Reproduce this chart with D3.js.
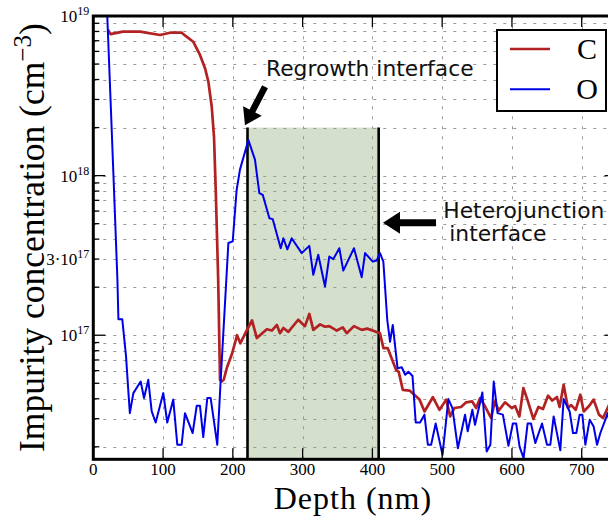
<!DOCTYPE html>
<html><head><meta charset="utf-8">
<script src="https://cdn.jsdelivr.net/npm/d3@7"></script>
<style>body{margin:0;background:#fff;overflow:hidden}</style>
</head><body><svg id="c" width="608" height="516"></svg>
<script>
// ---- data (depth in nm, concentration in cm^-3) ----
const depthC = [21,24.7,42.5,67,95.6,110,126.6,133.7,143.2,152.9,160.1,164.9,169.7,173,175.5,179,181.6,184,186.9,191.7,198.8,206,210.7,220.3,227.5,234.4,248.7,255.9,263.1,267.6,272.4,279.5,293.7,303.4,309.6,315.3,325,332.1,338.2,348.9,357.5,363.3,373.6,384.7,392.6,405.2,410.9,415.8,422,433.9,437.7,443.5,453.3,467.6,474.7,486.6,496.2,505.8,511.5,517.5,527.1,534.4,543,548.7,554.4,562,570.2,575.4,581,590.1,599.7,604.5,610.7,616.4,622.1,630.7,637.9,644.5,651.7,657.8,664.5,668.3,674.1,680.3,685,691.4,698,702.9,710.5,717.1,724.7,730.5,741,748,755];
const concC = [8.2e18,7.7e18,7.98e18,7.98e18,7.6e18,7.86e18,7.86e18,7.42e18,6.9e18,5.7e18,4.71e18,3.88e18,2.71e18,1.75e18,8.1e17,2.22e17,5.26e16,5.13e16,5.26e16,6.3e16,7.65e16,1.0e17,8.9e16,1.08e17,1.24e17,9.6e16,1.09e17,1.07e17,1.16e17,1.03e17,1.11e17,1.05e17,1.25e17,1.14e17,1.36e17,1.08e17,1.17e17,1.13e17,1.14e17,1.07e17,1.12e17,1.03e17,1.14e17,1.08e17,1.1e17,1.05e17,1.03e17,8.3e16,8.3e16,6.07e16,5.9e16,4.55e16,4.5e16,3.95e16,3.33e16,4.09e16,3.41e16,3.95e16,3.1e16,3.5e16,3.55e16,3.8e16,3.85e16,3.5e16,4.04e16,3.55e16,3.03e16,3.85e16,3.37e16,3.8e16,3.5e16,3.6e16,3.1e16,4.67e16,3.95e16,2.99e16,3.55e16,3.45e16,4.18e16,3.9e16,4.1e16,3.55e16,4.89e16,3.5e16,3.65e16,3.41e16,4.24e16,3.33e16,3.6e16,3.95e16,3.18e16,3.03e16,3.8e16,3.4e16,3.7e16];
const depthO = [19,24.7,29.7,34.6,36,41.5,46.9,50.1,52.4,57.4,67.9,72.7,78.8,83.7,89.4,100.3,106,114.6,120.4,126.6,131.4,142.4,148.2,152.9,157.6,163.4,168.2,177.7,182.6,193.6,199.8,205.4,210.2,222.3,231.7,238,242.9,252.4,257.1,268.6,272.4,278.1,284.3,298.7,309.6,315.3,322.4,332.1,338.2,344,352.6,358.3,373.6,384.7,389.5,400.5,406.2,410.9,415.7,421.3,425.3,429.2,436.1,442.1,447,451.7,457.5,462.1,468.3,474.6,479.5,484.2,490.7,500.5,508.9,514.7,522.5,532.8,536.6,543.3,547.1,557.6,563.8,569.1,573.9,579.4,587,595,601.3,606.1,611,616.7,622.5,627.3,633.5,643.1,650.3,655,659.8,669.3,674.1,682.7,687.5,692.3,697,700.9,705.2,711.4,717.1,722,726.7,733.8,737.2,742,748,755];
const concO = [1.3e19,3.0e18,8.1e17,2.2e17,1.26e17,1.26e17,7.4e16,4.55e16,3.25e16,4.34e16,5.13e16,4.04e16,5.26e16,3.33e16,2.84e16,4.34e16,2.84e16,3.95e16,2.06e16,2.06e16,3.25e16,2.44e16,3.61e16,3.61e16,2.3e16,4.04e16,4.04e16,2.06e16,5.26e16,3.78e17,3.87e17,8.1e17,1.09e18,1.67e18,1.26e18,7.77e17,7.57e17,5.41e17,5.34e17,3.51e17,4.05e17,3.45e17,4.05e17,3.27e17,3.63e17,2.39e17,3.19e17,2.02e17,3.11e17,3.0e17,3.51e17,2.54e17,3.51e17,2.31e17,3.27e17,2.89e17,2.94e17,3.27e17,2.89e17,1.25e17,9.1e16,1.16e17,6.2e16,6.3e16,5.65e16,5.9e16,5.55e16,2.84e16,2.84e16,3.18e16,2.06e16,2.06e16,2.8e16,1.78e16,3.98e16,3.49e16,1.96e16,3.18e16,2.5e16,3.41e16,2.75e16,4.38e16,1.87e16,2.06e16,5.13e16,3.25e16,3.18e16,2.03e16,2.8e16,2.8e16,2.0e16,1.7e16,2.8e16,2.8e16,2.11e16,2.8e16,2.06e16,2.06e16,3.1e16,1.9e16,3.98e16,3.33e16,2.44e16,2.44e16,3.18e16,3.18e16,2.06e16,2.95e16,2.68e16,2.06e16,2.44e16,2.95e16,3.25e16,2.6e16,2.1e16,2.8e16];
const xTickValues = [0,100,200,300,400,500,600,700];
const yMajorValues = [1e17,1e18,1e19];
const yLabelValues = [1e17,3e17,1e18,1e19];
const yLabelBase = ["10","3·10","10","10"];
const yLabelExp = ["17","17","18","19"];
const interfaceDepths = [221,409];
const shadeTop = 2e18;
const seriesNames = ["C","O"];
const seriesColors = ["#b22222","#0000e8"];
const annRegrowth = {text:"Regrowth interface", tx:247.5, ty:4.2e18, from:[246.1,3.6e18], to:[217.4,2.07e18]};
const annHetero = {lines:["Heterojunction","interface"], tx:[501.6,510.2], ty:[5.4e17,3.9e17], from:[491.2,5.06e17], to:[415.2,5.06e17]};

// ---- layout ----
const L=93.3, T=16, R=616.6, B=459.3;
const svg=d3.select("#c");
const x=d3.scaleLinear([0,750],[L,R]);
const y=d3.scaleLog([1.67e16,1e19],[B,T]);
const serif="'Liberation Serif','Times New Roman',serif";
const sans="'DejaVu Sans',sans-serif";

svg.append("defs").append("clipPath").attr("id","pc").append("rect")
  .attr("x",L).attr("y",T).attr("width",R-L).attr("height",B-T);

// shaded region
svg.append("rect").attr("x",x(interfaceDepths[0])).attr("y",y(shadeTop))
  .attr("width",x(interfaceDepths[1])-x(interfaceDepths[0])).attr("height",B-y(shadeTop))
  .attr("fill","#d5e0cc");

// grid
const gridVals=y.ticks().filter(v=>v<1e19*0.999);
const grid=svg.append("g").attr("stroke","#9a9a9a").attr("stroke-width",1).attr("stroke-dasharray","3,7");
grid.selectAll("line.h").data(gridVals).join("line").attr("class","h")
  .attr("x1",L).attr("x2",R).attr("y1",d=>Math.round(y(d))+0.5).attr("y2",d=>Math.round(y(d))+0.5);
grid.selectAll("line.v").data(xTickValues.slice(1)).join("line").attr("class","v")
  .attr("y1",B).attr("y2",T).attr("x1",d=>Math.round(x(d))+0.5).attr("x2",d=>Math.round(x(d))+0.5);

// interface lines
svg.selectAll("line.ifc").data(interfaceDepths).join("line").attr("class","ifc")
  .attr("x1",d=>x(d)).attr("x2",d=>x(d)).attr("y1",y(shadeTop)).attr("y2",B)
  .attr("stroke","#000").attr("stroke-width",2.6);

// data lines
const line=d3.line().x(d=>x(d[0])).y(d=>y(d[1]));
const dataC=depthC.map((d,i)=>[d,concC[i]]);
const dataO=depthO.map((d,i)=>[d,concO[i]]);
const pg=svg.append("g").attr("clip-path","url(#pc)");
pg.append("path").datum(dataC).attr("d",line).attr("fill","none").attr("stroke",seriesColors[0]).attr("stroke-width",2.7).attr("stroke-linejoin","round");
pg.append("path").datum(dataO).attr("d",line).attr("fill","none").attr("stroke",seriesColors[1]).attr("stroke-width",2).attr("stroke-linejoin","round");

// ticks
const tk=svg.append("g").attr("stroke","#000").attr("stroke-width",1.3);
gridVals.concat([1e19]).forEach(v=>{
  const major=yMajorValues.some(m=>Math.abs(m-v)/m<1e-6);
  const len=major?12:6, yy=y(v);
  tk.append("line").attr("x1",L).attr("x2",L+len).attr("y1",yy).attr("y2",yy);
  tk.append("line").attr("x1",R).attr("x2",R-len).attr("y1",yy).attr("y2",yy);
});
xTickValues.slice(1).forEach(v=>{
  const xx=x(v);
  tk.append("line").attr("x1",xx).attr("x2",xx).attr("y1",B).attr("y2",B-11);
  tk.append("line").attr("x1",xx).attr("x2",xx).attr("y1",T).attr("y2",T+11);
});

// frame
svg.append("rect").attr("x",L).attr("y",T).attr("width",R-L).attr("height",B-T)
  .attr("fill","none").attr("stroke","#000").attr("stroke-width",3);

// tick labels
svg.selectAll("text.xt").data(xTickValues).join("text").attr("class","xt")
  .attr("x",d=>x(d)).attr("y",B+16).attr("text-anchor","middle")
  .attr("font-family",serif).attr("font-size",17).text(d=>d);
yLabelValues.forEach((v,i)=>{
  const t=svg.append("text").attr("x",L-4).attr("y",y(v)+6).attr("text-anchor","end")
    .attr("font-family",serif).attr("font-size",17);
  t.append("tspan").text(yLabelBase[i]);
  t.append("tspan").attr("dy",-7).attr("font-size",12).text(yLabelExp[i]);
});

// axis titles
svg.append("text").attr("x",(L+R)/2-2).attr("y",508.5).attr("text-anchor","middle")
  .attr("font-family",serif).attr("font-size",32).attr("letter-spacing",1).text("Depth (nm)");
const yt=svg.append("text").attr("transform",`translate(43.5,${(T+B)/2}) rotate(-90)`)
  .attr("text-anchor","middle").attr("font-family",serif).attr("font-size",35.5);
yt.append("tspan").text("Impurity concentration (cm");
yt.append("tspan").attr("dy",-13).attr("font-size",25).text("−3");
yt.append("tspan").attr("dy",13).text(")");

// legend
const lg=svg.append("g");
lg.append("rect").attr("x",497).attr("y",30).attr("width",109).attr("height",81)
  .attr("fill","#fff").attr("stroke","#000").attr("stroke-width",2);
seriesNames.forEach((n,i)=>{
  const yy=49+i*40.3;
  lg.append("line").attr("x1",510).attr("x2",550).attr("y1",yy).attr("y2",yy)
    .attr("stroke",seriesColors[i]).attr("stroke-width",i?2:2.7);
  lg.append("text").attr("x",587).attr("y",yy+10).attr("text-anchor","middle")
    .attr("font-family",serif).attr("font-size",30).text(n);
});

// annotations
function arrow(x1,y1,x2,y2,sw,hw,hl){
  const dx=x2-x1, dy=y2-y1, len=Math.hypot(dx,dy), ux=dx/len, uy=dy/len, nx=-uy, ny=ux;
  const bx=x2-ux*hl, by=y2-uy*hl;
  const p=[[x1+nx*sw/2,y1+ny*sw/2],[bx+nx*sw/2,by+ny*sw/2],[bx+nx*hw/2,by+ny*hw/2],[x2,y2],
           [bx-nx*hw/2,by-ny*hw/2],[bx-nx*sw/2,by-ny*sw/2],[x1-nx*sw/2,y1-ny*sw/2]];
  svg.append("polygon").attr("points",p.map(q=>q.join(",")).join(" ")).attr("fill","#000");
}
svg.append("text").attr("x",x(annRegrowth.tx)).attr("y",y(annRegrowth.ty))
  .attr("font-family",sans).attr("font-size",21.8).attr("fill","#111").text(annRegrowth.text);
arrow(x(annRegrowth.from[0]),y(annRegrowth.from[1]),x(annRegrowth.to[0]),y(annRegrowth.to[1]),6.5,21,16);
annHetero.lines.forEach((s,i)=>{
  svg.append("text").attr("x",x(annHetero.tx[i])).attr("y",y(annHetero.ty[i]))
    .attr("font-family",sans).attr("font-size",21.8).attr("fill","#111").text(s);
});
arrow(x(annHetero.from[0]),y(annHetero.from[1]),x(annHetero.to[0]),y(annHetero.to[1]),7,22,17);
</script></body></html>
